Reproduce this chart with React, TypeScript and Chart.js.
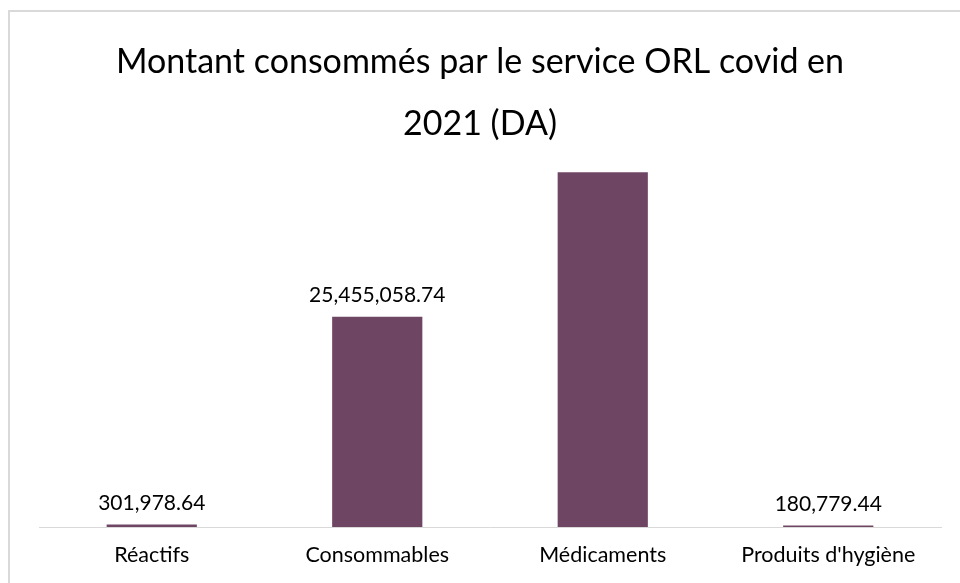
import React, { useEffect, useRef } from "react";
import { Chart, registerables } from "chart.js";

Chart.register(...registerables);

const categories = ["Réactifs", "Consommables", "Médicaments", "Produits d'hygiène"];
const amounts = [301978.64, 25455058.74, 42960000, 180779.44];
const labelShown = [true, true, false, true];
const titleLines = ["Montant consommés par le service ORL covid en", "2021 (DA)"];
const yMax = 50000000;

const FONT = "Lato, 'Open Sans', sans-serif";

export default function App() {
  const ref = useRef<HTMLCanvasElement | null>(null);
  useEffect(() => {
    const canvas = ref.current!;
    const framePlugin = {
      id: "frame",
      beforeDraw(chart: any) {
        const ctx = chart.ctx;
        ctx.save();
        ctx.fillStyle = "#ffffff";
        ctx.fillRect(0, 0, chart.width, chart.height);
        ctx.strokeStyle = "#d9d9d9";
        ctx.lineWidth = 2;
        ctx.beginPath();
        ctx.moveTo(9, chart.height + 5);
        ctx.lineTo(9, 11);
        ctx.lineTo(chart.width + 5, 11);
        ctx.stroke();
        ctx.restore();
      },
      afterDraw(chart: any) {
        const ctx = chart.ctx;
        ctx.save();
        ctx.fillStyle = "#000000";
        ctx.textAlign = "center";
        ctx.textBaseline = "middle";
        ctx.font = `34px ${FONT}`;
        titleLines.forEach((t, i) => {
          ctx.fillText(t, 480, 62 + i * 62);
        });
        const meta = chart.getDatasetMeta(0);
        ctx.font = `21px ${FONT}`;
        ctx.textBaseline = "alphabetic";
        meta.data.forEach((bar: any, i: number) => {
          if (!labelShown[i]) return;
          const v = amounts[i];
          const txt = v.toLocaleString("en-US", { minimumFractionDigits: 2, maximumFractionDigits: 2 });
          ctx.fillText(txt, bar.x, bar.y - 15);
        });
        ctx.restore();
      },
    };
    const chart = new Chart(canvas, {
      type: "bar",
      data: {
        labels: categories,
        datasets: [
          {
            data: amounts,
            backgroundColor: "#6e4664",
            borderWidth: 0,
            categoryPercentage: 1,
            barPercentage: 0.4,
          },
        ],
      },
      options: {
        animation: false,
        responsive: false,
        maintainAspectRatio: false,
        layout: { padding: { left: 39, right: 19, top: 114, bottom: 0 } },
        plugins: {
          legend: { display: false },
          title: { display: false },
          tooltip: { enabled: false },
        },
        scales: {
          x: {
            grid: { display: false, drawTicks: false },
            border: { display: true, color: "#d9d9d9", width: 1 },
            ticks: {
              color: "#000000",
              font: { family: FONT, size: 21.5 },
              padding: 15,
              maxRotation: 0,
              autoSkip: false,
            },
            afterFit(scale: any) {
              scale.height = 56;
            },
          },
          y: {
            display: false,
            min: 0,
            max: yMax,
          },
        },
      },
      plugins: [framePlugin],
    });
    return () => chart.destroy();
  }, []);
  return (
    <div style={{ position: "fixed", left: 0, top: 0, width: 960, height: 583 }}>
      <canvas ref={ref} width={960} height={583} style={{ width: 960, height: 583, display: "block" }} />
    </div>
  );
}
